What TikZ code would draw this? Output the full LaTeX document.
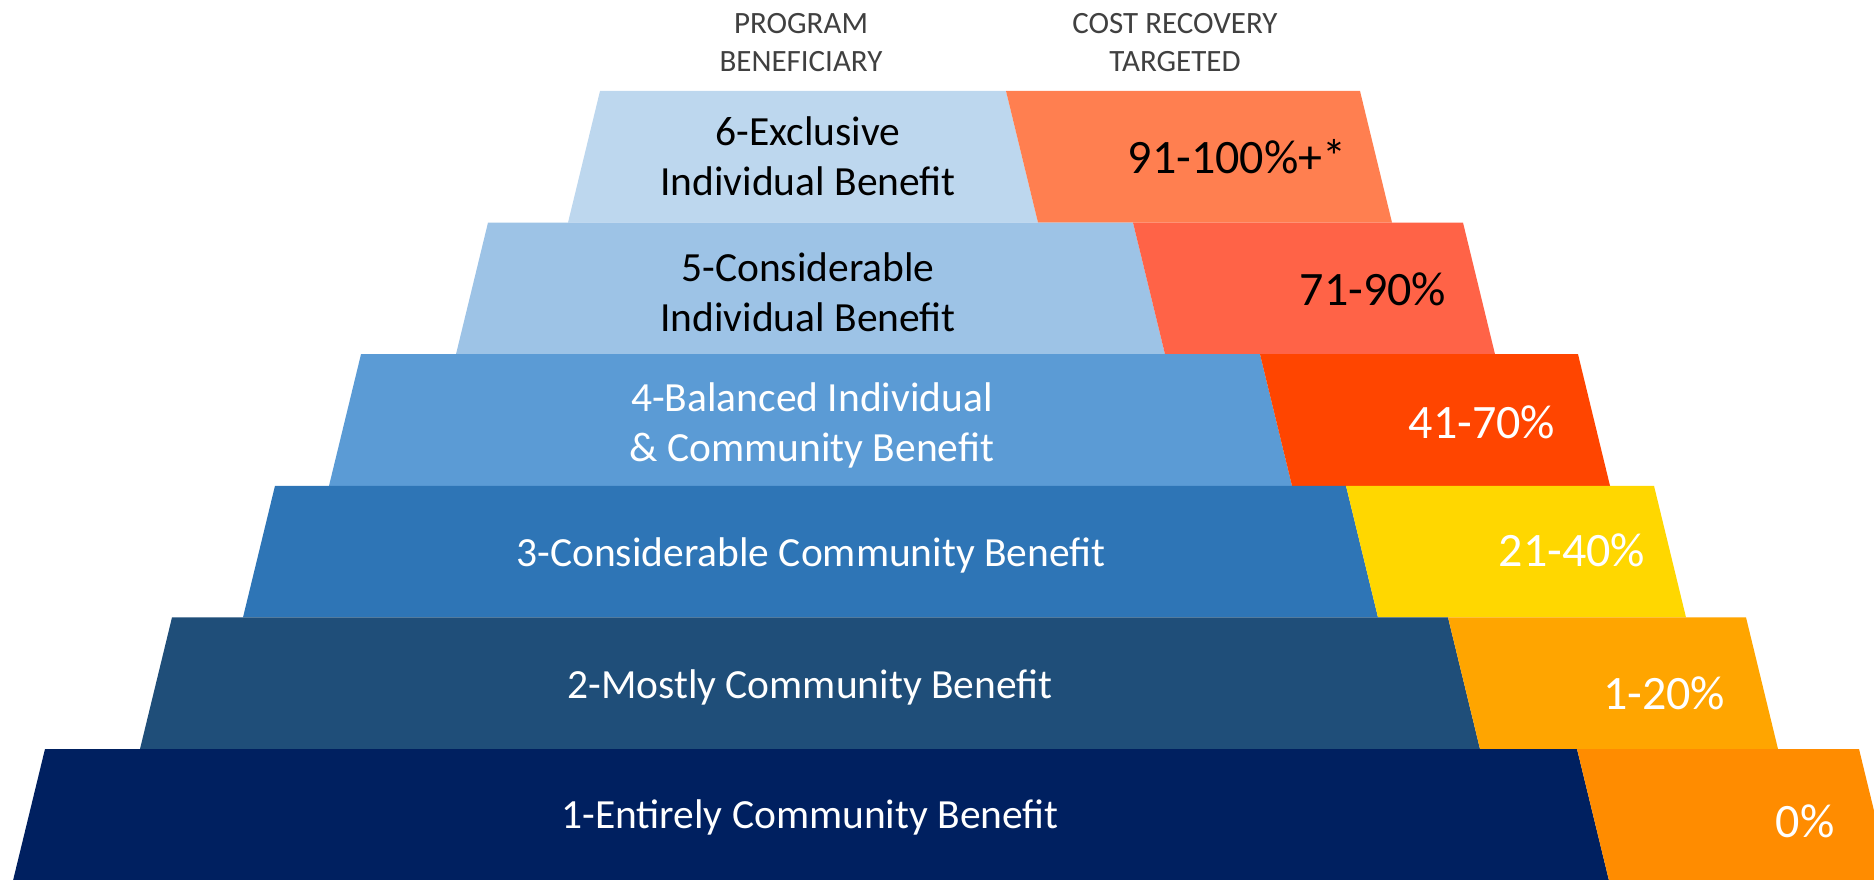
\documentclass[tikz,border=0pt]{standalone}
\usepackage{fontspec}
\setmainfont{Carlito}
\definecolor{blueA}{HTML}{BDD7EE}
\definecolor{blueB}{HTML}{9DC3E6}
\definecolor{blueC}{HTML}{5B9BD5}
\definecolor{blueD}{HTML}{2E75B6}
\definecolor{blueE}{HTML}{1F4E79}
\definecolor{blueF}{HTML}{002060}
\definecolor{hotA}{HTML}{FF7F50}
\definecolor{hotB}{HTML}{FF6347}
\definecolor{hotC}{HTML}{FF4500}
\definecolor{hotD}{HTML}{FFD700}
\definecolor{hotE}{HTML}{FFA500}
\definecolor{hotF}{HTML}{FF8C00}
\definecolor{headgray}{HTML}{404040}
\tikzset{
  head/.style={inner sep=0pt, align=center, text=headgray,
    font=\fontsize{31}{38}\selectfont},
  tier/.style={inner sep=0pt, align=center, font=\fontsize{41.5}{50}\selectfont},
  pct/.style={inner sep=0pt, anchor=base, font=\fontsize{48}{56}\selectfont}
}
\begin{document}
\begin{tikzpicture}[x=1pt,y=-1pt]
\useasboundingbox (0,0) rectangle (1874,880);
\clip (0,0) rectangle (1874,880);
% the six tiers, top to bottom
\foreach \i/\l/\s/\r/\cb/\co in {0/600/1006/1360/blueA/hotA,
  1/488/1133/1463/blueB/hotB, 2/361/1260/1578/blueC/hotC,
  3/275/1346/1654/blueD/hotD, 4/172/1448/1746/blueE/hotE,
  5/45/1577/1859/blueF/hotF}{
\pgfmathsetmacro{\t}{91+131.6*\i}
\pgfmathsetmacro{\b}{\t+131.6}
\fill[\cb] (\l,\t)--(\s,\t)--(\s+32,\b)--(\l-32,\b)--cycle;
\fill[\co] (\s,\t)--(\r,\t)--(\r+32,\b)--(\s+32,\b)--cycle;
}
% column heads
\node[head] (hbenef) at (801,43) {PROGRAM\\BENEFICIARY};
\node[head] (hcost) at (1175,43) {COST RECOVERY\\TARGETED};
% beneficiary labels
\node[tier] (t6) at (808,156.5) {6-Exclusive\\Individual Benefit};
\node[tier] (t5) at (808,292) {5-Considerable\\Individual Benefit};
\node[tier, text=white] (t4) at (812,425.5) {4-Balanced Individual\\\& Community Benefit};
\node[tier, text=white, anchor=base] (t3) at (811,566) {3-Considerable Community Benefit};
\node[tier, text=white, anchor=base] (t2) at (810,698) {2-Mostly Community Benefit};
\node[tier, text=white, anchor=base] (t1) at (810,828) {1-Entirely Community Benefit};
% cost recovery labels
\node[pct] (p6) at (1237,173) {91-100\%+*};
\node[pct] (p5) at (1373,305) {71-90\%};
\node[pct, text=white] (p4) at (1482,438) {41-70\%};
\node[pct, text=white] (p3) at (1572,566) {21-40\%};
\node[pct, text=white] (p2) at (1664,709) {1-20\%};
\node[pct, text=white] (p1) at (1805,837) {0\%};
\end{tikzpicture}
\end{document}
